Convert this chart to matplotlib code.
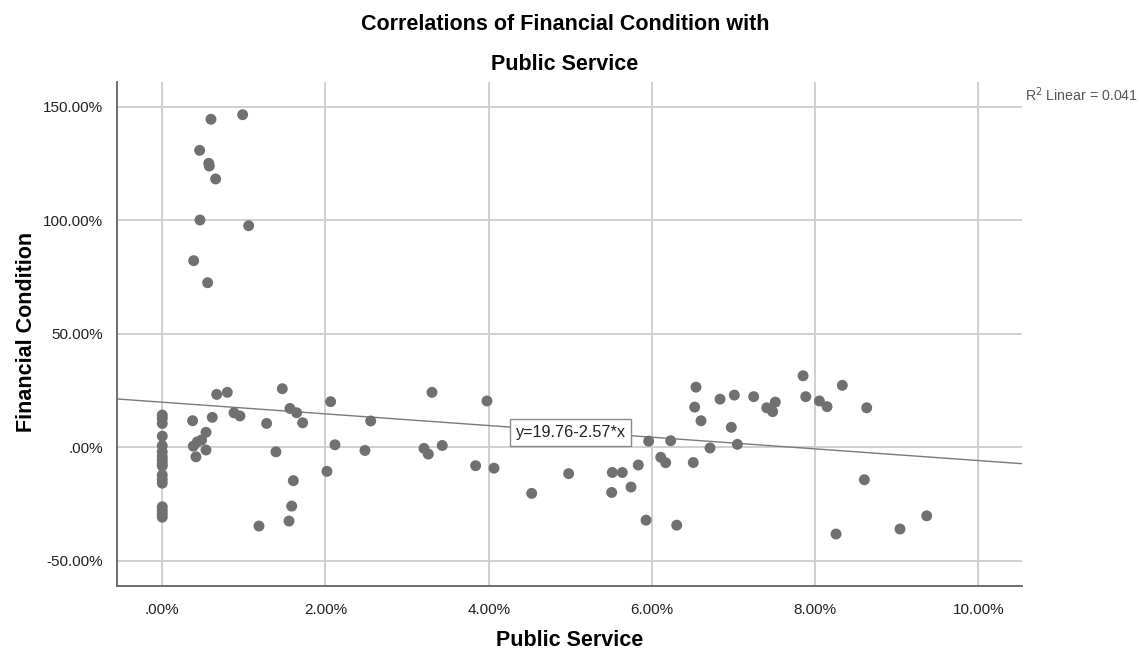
import matplotlib
matplotlib.use("Agg")
import matplotlib.pyplot as plt
import numpy as np

# --- Data (percent units) ---
public_service = [
    # zero column
    0.0, 0.0, 0.0, 0.0, 0.0, 0.0, 0.0, 0.0, 0.0, 0.0, 0.0, 0.0, 0.0, 0.0, 0.0, 0.0, 0.0,
    # high outliers
    0.597, 0.985, 0.458, 0.570, 0.576, 0.654, 0.462, 1.059, 0.385, 0.556,
    # low cluster
    0.372, 0.613, 0.536, 0.482, 0.430, 0.380, 0.536, 0.413,
    0.667, 0.797, 0.879, 0.952, 1.279, 1.471, 1.565, 1.647, 1.720, 1.393,
    1.606, 1.586, 1.553, 1.185,
    2.063, 2.554, 3.305, 3.979, 2.116, 2.484, 2.018, 3.207, 3.260, 3.431,
    3.840, 4.065, 4.980, 4.527,
    5.515, 5.637, 5.507, 5.744, 5.833, 5.928, 5.960, 6.108, 6.169, 6.230,
    6.304, 6.507, 6.524, 6.540, 6.602, 6.712, 6.835, 6.973, 7.010, 7.047,
    7.247, 7.407, 7.480, 7.512, 7.852, 7.885, 8.052, 8.146, 8.333, 8.632,
    8.603, 8.256, 9.367, 9.040,
]
financial_condition = [
    14.1, 12.6, 10.4, 4.8, 0.6, -2.1, -4.2, -5.7, -7.3, -8.3, -12.3, -14.2, -15.9,
    -26.3, -27.9, -29.4, -30.9,
    144.4, 146.4, 130.7, 125.0, 123.8, 118.1, 100.0, 97.5, 82.1, 72.4,
    11.6, 13.1, 6.5, 3.1, 2.3, 0.4, -1.3, -4.3,
    23.2, 24.1, 15.1, 13.7, 10.4, 25.7, 17.0, 15.1, 10.7, -2.1,
    -14.8, -26.0, -32.6, -34.8,
    20.0, 11.5, 24.1, 20.3, 1.0, -1.5, -10.7, -0.6, -3.1, 0.7,
    -8.2, -9.3, -11.7, -20.4,
    -11.2, -11.2, -20.0, -17.6, -7.9, -32.2, 2.6, -4.5, -6.9, 2.8,
    -34.4, -6.8, 17.6, 26.4, 11.6, -0.4, 21.1, 8.7, 22.9, 1.2,
    22.2, 17.3, 15.6, 19.8, 31.4, 22.2, 20.3, 17.8, 27.2, 17.3,
    -14.4, -38.3, -30.3, -36.1,
]

# fitted line y = a + b*x and its R squared
intercept = 19.76
slope = -2.57
r_squared = 0.041

x_ticks = [0, 2, 4, 6, 8, 10]
x_tick_labels = [".00%", "2.00%", "4.00%", "6.00%", "8.00%", "10.00%"]
y_ticks = [-50, 0, 50, 100, 150]
y_tick_labels = ["-50.00%", ".00%", "50.00%", "100.00%", "150.00%"]

plt.rcParams["font.family"] = ["Liberation Sans", "DejaVu Sans"]

# --- Figure ---
fig = plt.figure(figsize=(11.4, 6.53), dpi=100)
ax = fig.add_axes([0.1026, 0.1026, 0.7939, 0.7718])

xlim = (-0.555, 10.535)
ylim = (-61.2, 160.8)
ax.set_xlim(*xlim)
ax.set_ylim(*ylim)

ax.set_xticks(x_ticks)
ax.set_xticklabels(x_tick_labels)
ax.set_yticks(y_ticks)
ax.set_yticklabels(y_tick_labels)
ax.tick_params(length=0, labelsize=11, colors="#222222", pad=12)
ax.tick_params(axis="y", pad=10)

ax.grid(True, color="#cfcfcf", linewidth=1.4)
ax.set_axisbelow(True)
for side in ["top", "right"]:
    ax.spines[side].set_visible(False)
for side in ["left", "bottom"]:
    ax.spines[side].set_color("#6e6e6e")
    ax.spines[side].set_linewidth(1.4)

# fit line across the full x range
line_x = np.array(xlim)
ax.plot(line_x, intercept + slope * line_x, color="#7a7a7a", linewidth=1.0, zorder=2)

ax.scatter(public_service, financial_condition, s=62, color="#707070",
           edgecolors="none", zorder=3, clip_on=False)

eq_label = f"y={intercept:.2f}{slope:+.2f}*x"
ax.text(4.33, 6.4, eq_label, fontsize=11.7, color="#222222",
        ha="left", va="center", zorder=4,
        bbox=dict(boxstyle="square,pad=0.36", facecolor="white",
                  edgecolor="#8a8a8a", linewidth=1.0))

fig.text(1025 / 1140, 1 - 95 / 653, rf"R$^2$ Linear = {r_squared:.3f}", fontsize=10.2,
         color="#555555", ha="left", va="center")

# --- Titles ---
fig.text(565 / 1140, 1 - 24 / 653, "Correlations of Financial Condition with",
         fontsize=15.5, fontweight="bold", ha="center", va="center")
fig.text(565 / 1140, 1 - 64 / 653, "Public Service",
         fontsize=15.5, fontweight="bold", ha="center", va="center")
fig.text(570 / 1140, 1 - 641 / 653, "Public Service",
         fontsize=15.5, fontweight="bold", ha="center", va="center")
fig.text(27 / 1140, 1 - 332 / 653, "Financial Condition", rotation=90,
         fontsize=15.5, fontweight="bold", ha="center", va="center")

fig.savefig("out.png", dpi=100)
